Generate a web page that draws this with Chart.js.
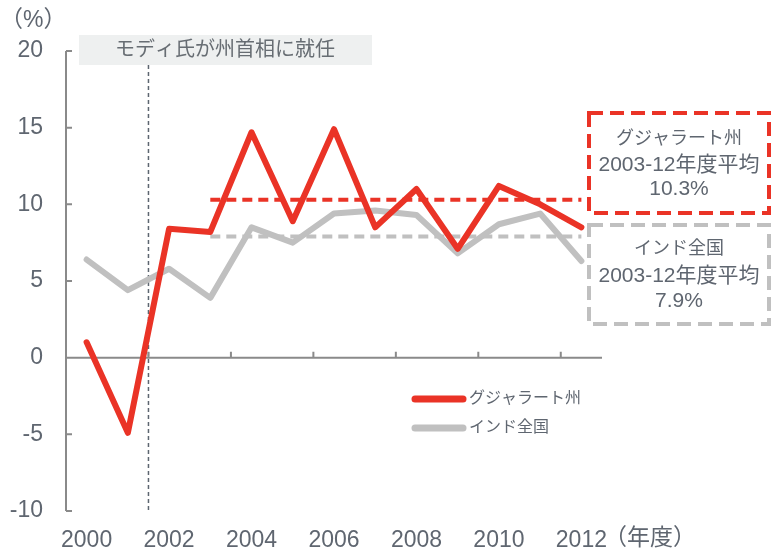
<!DOCTYPE html>
<html>
<head>
<meta charset="utf-8">
<script src="https://cdn.jsdelivr.net/npm/chart.js@4/dist/chart.umd.min.js"></script>
<style>
body { margin: 0; background: #fff; }
#wrap { width: 773px; height: 551px; position: relative; }
</style>
</head>
<body>
<div id="wrap"><canvas id="growth-chart"></canvas></div>
<script>
// fiscal years on the x axis
var years = ['2000','2001','2002','2003','2004','2005','2006','2007','2008','2009','2010','2011','2012'];
// real growth, %
var gujaratGrowth = [1.0, -4.9, 8.4, 8.2, 14.7, 8.9, 14.9, 8.5, 11.0, 7.1, 11.2, 10.0, 8.5];
var indiaGrowth = [6.4, 4.4, 5.8, 3.9, 8.5, 7.5, 9.4, 9.6, 9.3, 6.8, 8.7, 9.4, 6.3];
// 2003-12 averages
var gujaratAvg = [null, null, null, 10.3, 10.3, 10.3, 10.3, 10.3, 10.3, 10.3, 10.3, 10.3, 10.3];
var indiaAvg = [null, null, null, 7.9, 7.9, 7.9, 7.9, 7.9, 7.9, 7.9, 7.9, 7.9, 7.9];
var yTicks = [-10, -5, 0, 5, 10, 15, 20];
var seriesNames = ['グジャラート州', 'インド全国'];

var chartFont = '"Liberation Sans", "Noto Sans CJK JP", sans-serif';
var textGray = '#5f6670';
var axisGray = '#8a8a8a';
var red = '#ea3326';
var gray = '#c0c0c0';

//Axis lines, ticks, Modi marker drawn under the lines
var framePlugin = {
  id: 'frame',
  beforeDatasetsDraw: function(chart) {
    var ctx = chart.ctx;
    var area = chart.chartArea;
    var xs = chart.scales.x;
    var ys = chart.scales.y;
    var zeroY = ys.getPixelForValue(0);
    ctx.save();

    ctx.fillStyle = '#eef0f0';
    ctx.fillRect(79, 35, 293, 30);
    ctx.fillStyle = '#676d73';
    ctx.font = '20px ' + chartFont;
    ctx.textAlign = 'center';
    ctx.textBaseline = 'middle';
    ctx.fillText('モディ氏が州首相に就任', 225, 50);

    var modiX = (xs.getPixelForValue(1) + xs.getPixelForValue(2)) / 2;
    ctx.strokeStyle = '#5d6670';
    ctx.lineWidth = 1.5;
    ctx.setLineDash([4, 3]);
    ctx.beginPath();
    ctx.moveTo(modiX, 65);
    ctx.lineTo(modiX, area.bottom);
    ctx.stroke();
    ctx.setLineDash([]);

    ctx.strokeStyle = axisGray;
    ctx.lineWidth = 2;
    ctx.beginPath();
    ctx.moveTo(area.left, area.top);
    ctx.lineTo(area.left, area.bottom);
    ctx.moveTo(area.left, zeroY);
    ctx.lineTo(area.right, zeroY);
    for (var v of yTicks) {
      var py = ys.getPixelForValue(v);
      ctx.moveTo(area.left, py);
      ctx.lineTo(area.left + 6, py);
    }
    for (var i = 1; i < years.length - 1; i += 2) {
      var px = (xs.getPixelForValue(i) + xs.getPixelForValue(i + 1)) / 2;
      ctx.moveTo(px, zeroY);
      ctx.lineTo(px, zeroY - 6);
    }
    ctx.stroke();
    ctx.restore();
  },
  afterDraw: function(chart) {
    var ctx = chart.ctx;
    ctx.save();
    ctx.fillStyle = textGray;
    ctx.textBaseline = 'middle';

    ctx.font = '23px ' + chartFont;
    ctx.textAlign = 'left';
    ctx.fillText('（%）', 0, 21);
    ctx.fillText('（年度）', 604, 539);

    // average boxes
    var boxes = [
      { color: red, top: 113, bottom: 213, lines: ['グジャラート州', '2003-12年度平均', '10.3%'], ys: [139, 165, 189] },
      { color: gray, top: 225, bottom: 324, lines: ['インド全国', '2003-12年度平均', '7.9%'], ys: [249, 276, 301] }
    ];
    ctx.lineWidth = 4;
    ctx.setLineDash([14, 7]);
    for (var b of boxes) {
      ctx.strokeStyle = b.color;
      ctx.strokeRect(589, b.top, 180, b.bottom - b.top);
    }
    ctx.setLineDash([]);
    ctx.textAlign = 'center';
    ctx.fillStyle = textGray;
    for (var b of boxes) {
      for (var k = 0; k < b.lines.length; k++) {
        ctx.font = (k === 0 ? '18px ' : '21px ') + chartFont;
        ctx.fillText(b.lines[k], 679, b.ys[k]);
      }
    }

    // legend
    var legendColors = [red, gray];
    ctx.lineCap = 'round';
    ctx.lineWidth = 7;
    ctx.font = '16px ' + chartFont;
    ctx.textAlign = 'left';
    for (var n = 0; n < seriesNames.length; n++) {
      var ly = 399 + n * 29;
      ctx.strokeStyle = legendColors[n];
      ctx.beginPath();
      ctx.moveTo(415, ly);
      ctx.lineTo(463, ly);
      ctx.stroke();
      ctx.fillText(seriesNames[n], 469, ly);
    }
    ctx.restore();
  }
};

var ctx = document.getElementById('growth-chart').getContext('2d');
var growthChart = new Chart(ctx, {
  type: 'line',
  data: {
    labels: years,
    datasets: [
      { label: seriesNames[0], data: gujaratGrowth, borderColor: red, borderWidth: 6, borderJoinStyle: 'round', borderCapStyle: 'round', pointRadius: 0, tension: 0 },
      { label: seriesNames[1], data: indiaGrowth, borderColor: gray, borderWidth: 6, borderJoinStyle: 'round', borderCapStyle: 'round', pointRadius: 0, tension: 0 },
      { label: 'avgG', data: gujaratAvg, borderColor: red, borderWidth: 4, borderDash: [10, 6], pointRadius: 0, spanGaps: false },
      { label: 'avgI', data: indiaAvg, borderColor: gray, borderWidth: 4, borderDash: [10, 6], pointRadius: 0, spanGaps: false }
    ]
  },
  options: {
    responsive: true,
    maintainAspectRatio: false,
    animation: false,
    layout: { padding: { top: 51, right: 171, bottom: 0, left: 0 } },
    plugins: { legend: { display: false }, tooltip: { enabled: false } },
    scales: {
      x: {
        offset: true,
        grid: { display: false },
        border: { display: false },
        afterFit: function(scale) { scale.height = 40; },
        ticks: {
          autoSkip: false,
          maxRotation: 0,
          padding: 8,
          color: textGray,
          font: { family: chartFont, size: 23 },
          callback: function(val, idx) { return idx % 2 === 0 ? years[idx] : ''; }
        }
      },
      y: {
        min: -10,
        max: 20,
        grid: { display: false },
        border: { display: false },
        afterFit: function(scale) { scale.width = 66; },
        ticks: {
          stepSize: 5,
          padding: 15,
          color: textGray,
          font: { family: chartFont, size: 23 }
        }
      }
    }
  },
  plugins: [framePlugin]
});
</script>
</body>
</html>
